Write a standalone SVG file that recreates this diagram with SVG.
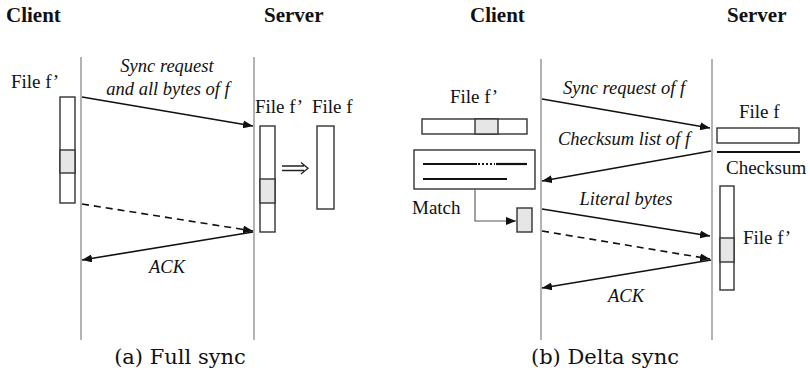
<svg xmlns="http://www.w3.org/2000/svg" width="810" height="370" viewBox="0 0 810 370">
  <style>
    .title { font-family: "Liberation Serif", serif; font-weight: bold; font-size: 21px; fill: #111; }
    .lbl { font-family: "Liberation Serif", serif; font-size: 19px; fill: #111; }
    .msg { font-family: "Liberation Serif", serif; font-style: italic; font-size: 18.5px; fill: #111; }
    .cap { font-family: "DejaVu Serif", serif; font-size: 21px; fill: #111; }
    .life { stroke: #8a8a8a; stroke-width: 1.3; fill: none; }
    .box { fill: #fff; stroke: #333; stroke-width: 1.4; }
    .cell { fill: #e6e6e6; stroke: #333; stroke-width: 1.4; }
    .arr { stroke: #111; stroke-width: 1.6; fill: none; marker-end: url(#head); }
    .dash { stroke: #111; stroke-width: 1.6; fill: none; stroke-dasharray: 7 5; marker-end: url(#head); }
    .thin { stroke: #555; stroke-width: 1.1; fill: none; marker-end: url(#head); }
    .bar { stroke: #111; stroke-width: 2.2; fill: none; }
  </style>
  <defs>
    <marker id="head" viewBox="0 0 10 8" refX="10" refY="4" markerWidth="10" markerHeight="8" markerUnits="userSpaceOnUse" orient="auto">
      <path d="M0,0 L10,4 L0,8 Z" fill="#111"/>
    </marker>
  </defs>

  <!-- ===== (a) Full sync ===== -->
  <g id="a-client">
    <text class="title" x="6" y="22">Client</text>
    <line class="life" x1="81" y1="57" x2="81" y2="340"/>
    <text class="lbl" x="11" y="88">File f’</text>
    <rect class="box" x="60" y="97" width="15" height="106"/>
    <rect class="cell" x="60" y="150" width="15" height="23"/>
  </g>
  <g id="a-server">
    <text class="title" x="264" y="22">Server</text>
    <line class="life" x1="254" y1="57" x2="254" y2="340"/>
    <text class="lbl" x="255" y="113">File f’</text>
    <rect class="box" x="260" y="126" width="15" height="106"/>
    <rect class="cell" x="260" y="179" width="15" height="24"/>
    <text class="lbl" x="312" y="113">File f</text>
    <rect class="box" x="317" y="126" width="17" height="83"/>
  </g>
  <g id="a-connectors">
    <line class="arr" x1="82" y1="97" x2="253" y2="126"/>
    <line class="dash" x1="82" y1="204" x2="253" y2="231"/>
    <line class="arr" x1="253" y1="232" x2="82" y2="260"/>
    <!-- conversion arrow f' to f -->
    <path d="M282,166 H304 M282,170.5 H304 M301,162.5 L308,168.25 L301,174" stroke="#222" stroke-width="1.3" fill="none"/>
  </g>
  <g id="a-labels">
    <text class="msg" x="167" y="72" text-anchor="middle">Sync request</text>
    <text class="msg" x="168" y="95" text-anchor="middle">and all bytes of f</text>
    <text class="msg" x="167" y="273" text-anchor="middle">ACK</text>
    <text class="cap" x="180" y="364" text-anchor="middle">(a) Full sync</text>
  </g>

  <!-- ===== (b) Delta sync ===== -->
  <g id="b-client">
    <text class="title" x="470" y="22">Client</text>
    <line class="life" x1="541" y1="59" x2="541" y2="340"/>
    <text class="lbl" x="450" y="103">File f’</text>
    <rect class="box" x="422" y="119" width="105" height="15"/>
    <rect class="cell" x="475" y="119" width="23" height="15"/>
  </g>
  <g id="b-checksum-list">
    <rect class="box" x="414" y="150" width="121" height="39"/>
    <line class="bar" x1="423" y1="164" x2="477" y2="164"/>
    <line class="bar" x1="478" y1="164" x2="495" y2="164" stroke-dasharray="2 2" stroke-width="1.6"/>
    <line class="bar" x1="496" y1="164" x2="527" y2="164"/>
    <line class="bar" x1="423" y1="179" x2="507" y2="179"/>
  </g>
  <g id="b-match">
    <text class="lbl" x="412" y="214">Match</text>
    <rect class="cell" x="517" y="208" width="15" height="24"/>
  </g>
  <g id="b-server">
    <text class="title" x="727" y="22">Server</text>
    <line class="life" x1="712" y1="59" x2="712" y2="340"/>
    <text class="lbl" x="739" y="118">File f</text>
    <rect class="box" x="717" y="128" width="82" height="15"/>
    <line class="bar" x1="717" y1="152" x2="800" y2="152"/>
    <text class="lbl" x="726" y="174">Checksum</text>
    <rect class="box" x="720" y="186" width="14" height="104"/>
    <rect class="cell" x="720" y="238" width="14" height="24"/>
    <text class="lbl" x="743" y="244">File f’</text>
  </g>
  <g id="b-connectors">
    <line class="arr" x1="542" y1="99" x2="710" y2="128"/>
    <line class="arr" x1="711" y1="151" x2="542" y2="181"/>
    <path class="thin" d="M475,189 V221 H516"/>
    <line class="arr" x1="542" y1="209" x2="710" y2="236"/>
    <line class="dash" x1="542" y1="231" x2="710" y2="259"/>
    <line class="arr" x1="711" y1="260" x2="542" y2="288"/>
  </g>
  <g id="b-labels">
    <text class="msg" x="624" y="94" text-anchor="middle">Sync request of f</text>
    <text class="msg" x="624" y="145" text-anchor="middle">Checksum list of f</text>
    <text class="msg" x="626" y="205" text-anchor="middle">Literal bytes</text>
    <text class="msg" x="626" y="302" text-anchor="middle">ACK</text>
    <text class="cap" x="605" y="364" text-anchor="middle">(b) Delta sync</text>
  </g>
</svg>
